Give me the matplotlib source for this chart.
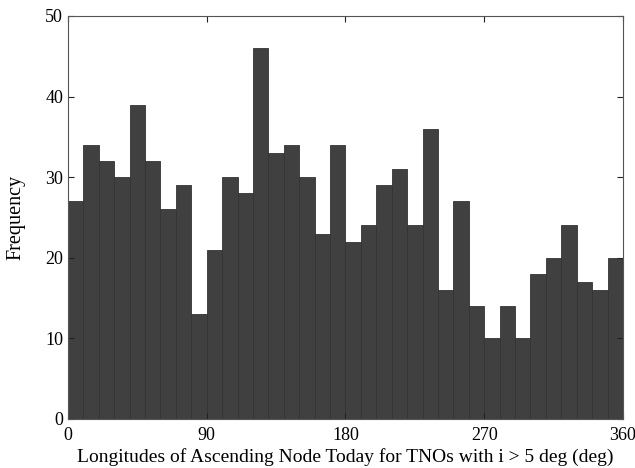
import numpy as np
import matplotlib.pyplot as plt

plt.rcParams['font.family'] = ['Liberation Serif', 'DejaVu Serif']

# counts per 10 deg bin, 0..360
counts = [27, 34, 32, 30, 39, 32, 26, 29, 13, 21, 30, 28, 46, 33, 34, 30, 23, 34,
          22, 24, 29, 31, 24, 36, 16, 27, 14, 10, 14, 10, 18, 20, 24, 17, 16, 20]
edges = np.arange(0, 361, 10)
xticks = [0, 90, 180, 270, 360]
yticks = [0, 10, 20, 30, 40, 50]

fig = plt.figure(figsize=(6.35, 4.68), dpi=100)
ax = fig.add_axes([0.107, 0.105, 0.874, 0.861])

ax.bar(edges[:-1], counts, width=10, align='edge', color='#404040',
       edgecolor='#333333', linewidth=0.6)

ax.set_xlim(0, 360)
ax.set_ylim(0, 50)
ax.set_xticks(xticks)
ax.set_yticks(yticks)
ax.tick_params(direction='in', top=True, right=True, labelsize=13, length=4,
               color='#222222')
ax.tick_params(axis='x', pad=6)
for s in ax.spines.values():
    s.set_color('#555555')
    s.set_linewidth(0.8)

ax.set_xlabel('Longitudes of Ascending Node Today for TNOs with i > 5 deg (deg)',
              fontsize=14, labelpad=3)
ax.set_ylabel('Frequency', fontsize=14.5, labelpad=14)

fig.savefig('out.png', dpi=100)
